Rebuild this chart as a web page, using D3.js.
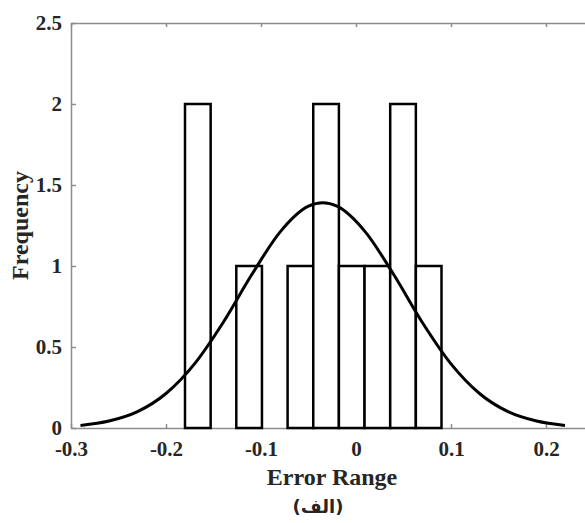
<!DOCTYPE html>
<html>
<head>
<meta charset="utf-8">
<script src="https://cdn.jsdelivr.net/npm/d3@7"></script>
<style>
  body { margin: 0; background: #fff; }
  .tick text { font-family: "Liberation Serif", "Times New Roman", serif; font-weight: bold; font-size: 21px; fill: #262626; }
  .axis path, .axis line { stroke: #8c8c8c; stroke-width: 1.5; }
</style>
</head>
<body>
<div id="vis-container"></div>
<script>
// Histogram bins (edges) and counts
var binEdges = [-0.180, -0.153, -0.126, -0.099, -0.072, -0.045, -0.018, 0.009, 0.036, 0.063, 0.090];
var binCounts = [2, 0, 1, 0, 1, 2, 1, 1, 2, 1];

// Fitted curve
var curveX = [-0.29, -0.26, -0.23, -0.20, -0.17, -0.14, -0.11, -0.08, -0.05, -0.035, -0.02, 0.01, 0.04, 0.07, 0.10, 0.13, 0.16, 0.19, 0.22];
var curveY = [0.016, 0.043, 0.101, 0.213, 0.396, 0.650, 0.944, 1.209, 1.369, 1.390, 1.369, 1.209, 0.944, 0.650, 0.396, 0.213, 0.101, 0.043, 0.016];

// Axis ticks
var xTickVals = [-0.3, -0.2, -0.1, 0, 0.1, 0.2];
var xTickLabels = ["-0.3", "-0.2", "-0.1", "0", "0.1", "0.2"];
var yTickVals = [0, 0.5, 1, 1.5, 2, 2.5];
var yTickLabels = ["0", "0.5", "1", "1.5", "2", "2.5"];

var width = 585;
var height = 523;
var margins = { top: 23, left: 71, bottom: 95 };
var plotBottom = height - margins.bottom;

var svg = d3.select("#vis-container").append("svg")
    .attr("width", width)
    .attr("height", height);

// the plot box runs past the right edge of the picture
var x = d3.scaleLinear().domain([-0.3, 0.25]).range([margins.left, margins.left + 0.55 * 950]);
var y = d3.scaleLinear().domain([0, 2.5]).range([plotBottom, margins.top]);

// axes (MATLAB style, ticks pointing inwards)
svg.append("g")
    .attr("class", "axis")
    .attr("transform", "translate(0," + plotBottom + ")")
    .call(d3.axisBottom(x).tickValues(xTickVals)
        .tickFormat(function (d, i) { return xTickLabels[i]; })
        .tickSizeInner(-4).tickSizeOuter(0).tickPadding(13));

svg.append("g")
    .attr("class", "axis")
    .attr("transform", "translate(0," + margins.top + ")")
    .call(d3.axisTop(x).tickValues(xTickVals).tickFormat("")
        .tickSizeInner(-4).tickSizeOuter(0));

svg.append("g")
    .attr("class", "axis")
    .attr("transform", "translate(" + margins.left + ",0)")
    .call(d3.axisLeft(y).tickValues(yTickVals)
        .tickFormat(function (d, i) { return yTickLabels[i]; })
        .tickSizeInner(-5).tickSizeOuter(0).tickPadding(9));

svg.selectAll(".tick text").attr("fill", "#262626");

// histogram bars
var bins = binCounts.map(function (c, i) {
    return { x0: binEdges[i], x1: binEdges[i + 1], count: c };
});

svg.append("g").selectAll("rect")
    .data(bins)
    .enter().append("rect")
    .attr("x", function (d) { return x(d.x0); })
    .attr("width", function (d) { return x(d.x1) - x(d.x0); })
    .attr("y", function (d) { return y(d.count); })
    .attr("height", function (d) { return y(0) - y(d.count); })
    .attr("fill", "#fff")
    .attr("stroke", "#000")
    .attr("stroke-width", 2.5);

// fitted normal curve
var pts = curveX.map(function (v, i) { return [v, curveY[i]]; });
var line = d3.line()
    .x(function (d) { return x(d[0]); })
    .y(function (d) { return y(d[1]); })
    .curve(d3.curveMonotoneX);

svg.append("path")
    .datum(pts)
    .attr("d", line)
    .attr("fill", "none")
    .attr("stroke", "#000")
    .attr("stroke-width", 3);

// labels
var serif = "'Liberation Serif', 'Times New Roman', serif";
svg.append("text")
    .text("Error Range")
    .attr("x", 332).attr("y", 485)
    .attr("text-anchor", "middle")
    .attr("font-family", serif).attr("font-weight", "bold").attr("font-size", 24)
    .attr("fill", "#262626");

svg.append("text")
    .text("Frequency")
    .attr("transform", "translate(28," + ((margins.top + plotBottom) / 2) + ") rotate(-90)")
    .attr("text-anchor", "middle")
    .attr("font-family", serif).attr("font-weight", "bold").attr("font-size", 24)
    .attr("fill", "#262626");

svg.append("text")
    .text("(الف)")
    .attr("x", 318).attr("y", 513)
    .attr("text-anchor", "middle")
    .attr("font-family", "'DejaVu Sans', sans-serif").attr("font-weight", "bold").attr("font-size", 18)
    .attr("fill", "#262626");
</script>
</body>
</html>
